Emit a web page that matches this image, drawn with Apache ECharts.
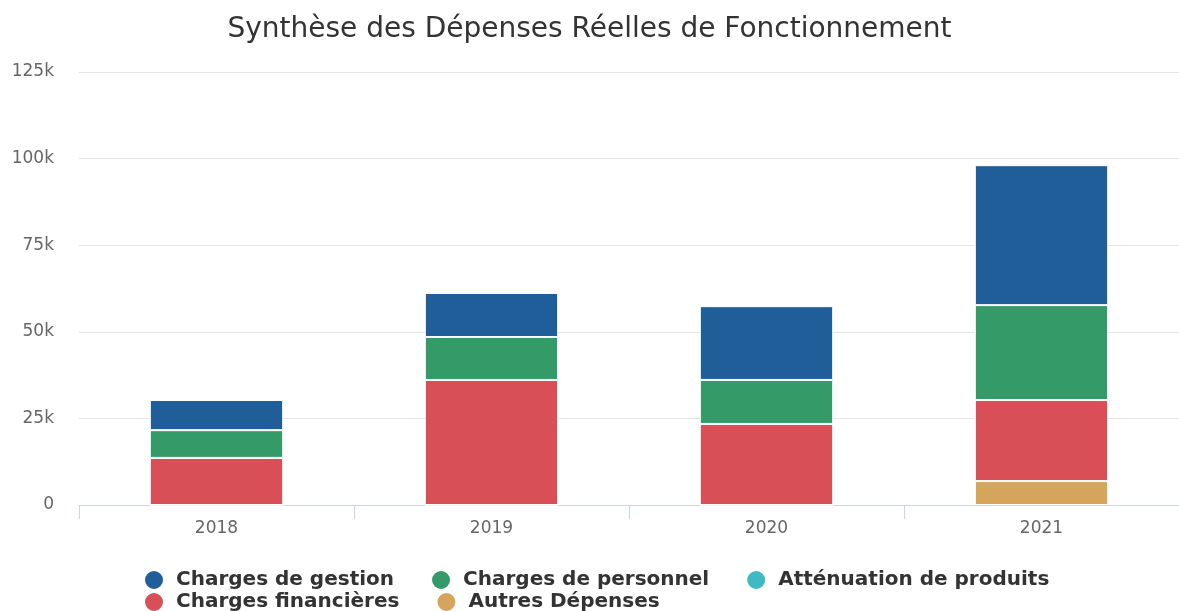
<!DOCTYPE html>
<html>
<head>
<meta charset="UTF-8">
<title>Synthèse des Dépenses</title>
<script type="text/javascript" src="https://cdn.jsdelivr.net/npm/echarts@6/dist/echarts.min.js"></script>
<style>
  body{margin:0}
</style>
</head>
<body>
<div id="main" style="width:1179px;height:611px"></div>
<script type="text/javascript">
// categories (years)
var annees = ['2018', '2019', '2020', '2021'];
// series values, in euros
var chargesGestion = [8700, 12700, 21300, 40400];
var chargesPersonnel = [8000, 12400, 12700, 27400];
var attenuationProduits = [0, 0, 0, 0];
var chargesFinancieres = [13600, 36100, 23400, 23400];
var autresDepenses = [0, 0, 0, 6900];
// legend, two rows
var legendLigne1 = ['Charges de gestion', 'Charges de personnel', 'Atténuation de produits'];
var legendLigne2 = ['Charges financières', 'Autres Dépenses'];

var myChart = echarts.init(document.getElementById('main'));

function serie(nom, valeurs, couleur) {
  return {
    name: nom,
    type: 'bar',
    stack: 'total',
    barWidth: '48.5%',
    data: valeurs,
    itemStyle: { color: couleur, borderColor: '#fff', borderWidth: 1 }
  };
}

function legende(donnees, haut) {
  return {
    data: donnees,
    left: 143,
    top: haut,
    icon: 'circle',
    itemWidth: 20,
    itemHeight: 20,
    itemGap: 36,
    padding: 0,
    textStyle: { fontSize: 20, fontWeight: 'bold', color: '#333', fontFamily: 'DejaVu Sans', padding: [0, 0, 0, 7] }
  };
}

var option = {
  animation: false,
  textStyle: { fontFamily: 'DejaVu Sans' },
  title: {
    text: 'Synthèse des Dépenses Réelles de Fonctionnement',
    left: 'center',
    top: 11,
    textStyle: { fontSize: 28, fontWeight: 'normal', color: '#333', fontFamily: 'DejaVu Sans' }
  },
  legend: [legende(legendLigne1, 569), legende(legendLigne2, 591)],
  grid: { left: 79, right: 0, top: 72, bottom: 106 },
  xAxis: {
    type: 'category',
    data: annees,
    axisLine: { lineStyle: { color: '#ccd6eb' } },
    axisTick: { show: true, length: 14, lineStyle: { color: '#ccd6eb' } },
    axisLabel: { color: '#666', fontSize: 17, margin: 15 }
  },
  yAxis: {
    type: 'value',
    min: 0,
    max: 125000,
    interval: 25000,
    axisLabel: {
      color: '#666',
      fontSize: 17,
      margin: 25,
      formatter: function (v) { return v === 0 ? '0' : (v / 1000) + 'k'; }
    },
    splitLine: { lineStyle: { color: '#e6e6e6' } }
  },
  series: [
    serie('Autres Dépenses', autresDepenses, '#d4a55a'),
    serie('Charges financières', chargesFinancieres, '#d84f58'),
    serie('Atténuation de produits', attenuationProduits, '#40b9c2'),
    serie('Charges de personnel', chargesPersonnel, '#349a67'),
    serie('Charges de gestion', chargesGestion, '#1f5e99')
  ]
};
myChart.setOption(option);
</script>
</body>
</html>
